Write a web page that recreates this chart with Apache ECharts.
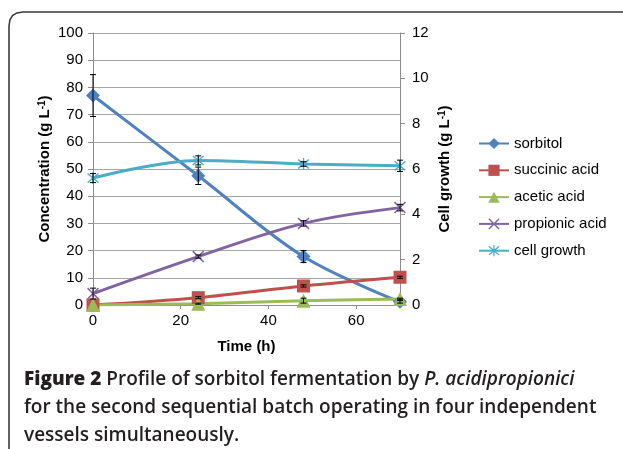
<!DOCTYPE html>
<html>
<head>
<meta charset="utf-8">
<script src="https://cdn.jsdelivr.net/npm/echarts@6/dist/echarts.min.js"></script>
<style>html,body{margin:0;padding:0;background:#fff}#c{width:623px;height:449px}</style>
</head>
<body>
<div id="c"></div>
<script>
// ---- data ----
var times = [0, 24, 48, 70];
var sorbitol = [77, 47.5, 17.8, 1.2];
var sorbitolErr = [7.7, 3.2, 2.2, 0.5];
var succinic = [0, 2.7, 7.0, 10.2];
var succinicErr = [0, 0.4, 0.4, 0.4];
var acetic = [0, 0.5, 1.6, 2.2];
var aceticErr = [0, 0.2, 0.9, 0.3];
var propionic = [4.2, 17.8, 30.0, 35.8];
var propionicErr = [2.0, 0.6, 1.0, 1.2];
var cellGrowth = [5.6, 6.38, 6.22, 6.14];
var cellGrowthErr = [0.2, 0.2, 0.1, 0.25];
var xTicks = [0, 20, 40, 60];
var seriesNames = ['sorbitol', 'succinic acid', 'acetic acid', 'propionic acid', 'cell growth'];

function pairs(vals) { return times.map(function (t, i) { return [t, vals[i]]; }); }
function errRows(vals, errs) {
  return times.map(function (t, i) { return [t, vals[i] - errs[i], vals[i] + errs[i]]; })
    .filter(function (r, i) { return errs[i] > 0; });
}

var xPath = 'path://M0,0.9 L0.9,0 L5,4.1 L9.1,0 L10,0.9 L5.9,5 L10,9.1 L9.1,10 L5,5.9 L0.9,10 L0,9.1 L4.1,5 Z';
var starPath = 'path://M0,0.9 L0.9,0 L5,4.1 L9.1,0 L10,0.9 L5.9,5 L10,9.1 L9.1,10 L5,5.9 L0.9,10 L0,9.1 L4.1,5 Z M4.45,-1 L5.55,-1 L5.55,11 L4.45,11 Z';

var colors = ['#4F81BD', '#C0504D', '#9BBB59', '#8064A2', '#4BACC6'];

function lineSeries(name, data, color, symbol, size, yIdx) {
  return {
    name: name, type: 'line', data: pairs(data), yAxisIndex: yIdx || 0,
    smooth: 0.35, symbol: symbol, symbolSize: size, showSymbol: true,
    lineStyle: { color: color, width: 3 },
    itemStyle: { color: color },
    z: 3
  };
}

function errSeries(rows, yIdx) {
  return {
    type: 'custom', yAxisIndex: yIdx || 0, data: rows, z: 5, silent: true,
    renderItem: function (params, api) {
      var x = api.value(0);
      var lo = api.coord([x, api.value(1)]);
      var hi = api.coord([x, api.value(2)]);
      var w = 3;
      var st = { stroke: '#000', lineWidth: 1 };
      return {
        type: 'group', children: [
          { type: 'line', shape: { x1: lo[0], y1: lo[1], x2: hi[0], y2: hi[1] }, style: st },
          { type: 'line', shape: { x1: lo[0] - w, y1: lo[1], x2: lo[0] + w, y2: lo[1] }, style: st },
          { type: 'line', shape: { x1: hi[0] - w, y1: hi[1], x2: hi[0] + w, y2: hi[1] }, style: st }
        ]
      };
    },
    encode: { x: 0, y: [1, 2] }
  };
}

var chart = echarts.init(document.getElementById('c'), null, { renderer: 'canvas' });
var SANS = 'Liberation Sans, Arial, sans-serif';
var axisFont = { fontFamily: SANS, fontSize: 15, color: '#000' };
var nameFont = { fontFamily: SANS, fontSize: 15, fontWeight: 'bold', color: '#000' };
var supStyle = { fontSize: 10, fontWeight: 'bold', verticalAlign: 'top', fontFamily: SANS, color: '#000' };
var CAP = 'Open Sans, Noto Sans, sans-serif';

chart.setOption({
  animation: false,
  color: colors,
  grid: { left: 93, right: 223, top: 33, bottom: 144, containLabel: false },
  legend: {
    orient: 'vertical', left: 478, top: 136, padding: 0,
    itemWidth: 30, itemHeight: 14, itemGap: 11.8,
    data: seriesNames,
    textStyle: { fontFamily: SANS, fontSize: 15, color: '#000', lineHeight: 14 }
  },
  xAxis: {
    type: 'value', min: 0, max: 70, interval: 20,
    name: 'Time (h)', nameLocation: 'middle', nameGap: 34, nameTextStyle: nameFont,
    axisLine: { show: true, lineStyle: { color: '#8c8c8c', width: 1 } },
    axisTick: { show: true, length: 4, lineStyle: { color: '#8c8c8c' } },
    axisLabel: Object.assign({ margin: 8, showMaxLabel: false, formatter: function (v) { return xTicks.indexOf(v) >= 0 ? String(v) : ''; } }, axisFont),
    splitLine: { show: false }
  },
  yAxis: [
    {
      type: 'value', min: 0, max: 100, interval: 10, position: 'left',
      name: 'Concentration (g L{sup|-1})', nameLocation: 'middle', nameRotate: 90, nameGap: 41,
      nameTextStyle: Object.assign({ rich: { sup: supStyle } }, nameFont),
      axisLine: { show: true, lineStyle: { color: '#8c8c8c', width: 1 } },
      axisTick: { show: true, length: 5, lineStyle: { color: '#8c8c8c' } },
      axisLabel: Object.assign({ margin: 10 }, axisFont),
      splitLine: { show: true, lineStyle: { color: '#a6a6a6', width: 1 } }
    },
    {
      type: 'value', min: 0, max: 12, interval: 2, position: 'right',
      name: 'Cell growth (g L{sup|-1})', nameLocation: 'middle', nameRotate: 90, nameGap: 37,
      nameTextStyle: Object.assign({ rich: { sup: supStyle } }, nameFont),
      axisLine: { show: true, lineStyle: { color: '#8c8c8c', width: 1 } },
      axisTick: { show: true, length: 5, lineStyle: { color: '#8c8c8c' } },
      axisLabel: Object.assign({ margin: 12 }, axisFont),
      splitLine: { show: false }
    }
  ],
  series: [
    lineSeries('sorbitol', sorbitol, colors[0], 'diamond', 14),
    lineSeries('succinic acid', succinic, colors[1], 'rect', 13),
    lineSeries('acetic acid', acetic, colors[2], 'triangle', 14),
    lineSeries('propionic acid', propionic, colors[3], xPath, 12),
    lineSeries('cell growth', cellGrowth, colors[4], starPath, 12, 1),
    errSeries(errRows(sorbitol, sorbitolErr)),
    errSeries(errRows(succinic, succinicErr)),
    errSeries(errRows(acetic, aceticErr)),
    errSeries(errRows(propionic, propionicErr)),
    errSeries(errRows(cellGrowth, cellGrowthErr), 1)
  ],
  graphic: [
    {
      type: 'polyline', silent: true,
      shape: { points: [[9, 449], [9, 26], [9.9, 19.9], [12.5, 15.5], [16.9, 12.9], [23, 12], [623, 12]] },
      style: { fill: null, stroke: '#3a3a3a', lineWidth: 1.6 }
    },
    {
      type: 'text', left: 24, top: 366, silent: true,
      style: {
        text: '{b|Figure 2} Profile of sorbitol fermentation by {i|P. acidipropionici}\nfor the second sequential batch operating in four independent\nvessels simultaneously.',
        fontFamily: CAP, fontSize: 19, fontWeight: 600, lineHeight: 28, fill: '#231f20',
        rich: {
          b: { fontWeight: 800, fontFamily: CAP, fontSize: 19, lineHeight: 28, fill: '#231f20' },
          i: { fontStyle: 'italic', fontWeight: 600, fontFamily: CAP, fontSize: 19, lineHeight: 28, fill: '#231f20' }
        }
      }
    }
  ]
});
</script>
</body>
</html>
